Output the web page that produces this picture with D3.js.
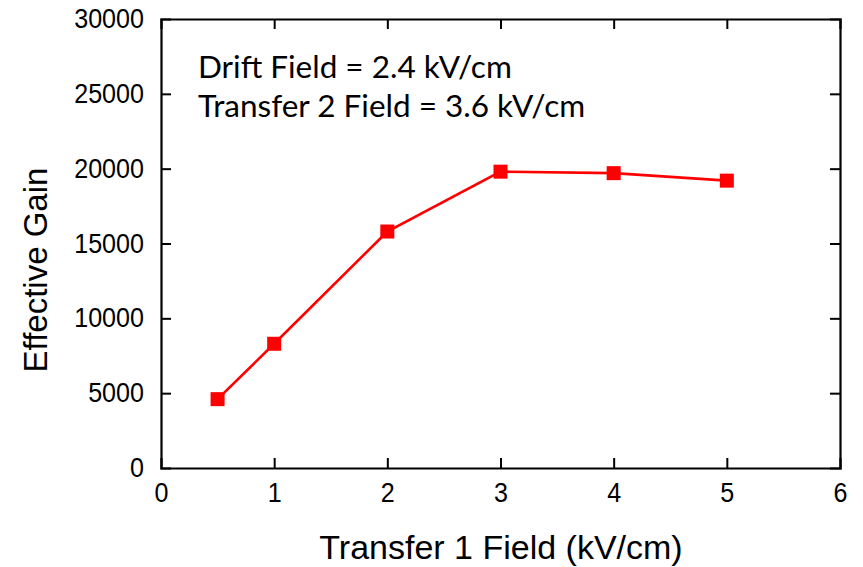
<!DOCTYPE html>
<html>
<head>
<meta charset="utf-8">
<script src="https://cdn.jsdelivr.net/npm/d3@7"></script>
<style>
  html, body { margin: 0; padding: 0; background: #fff; }
  svg { display: block; }
</style>
</head>
<body>
<svg id="chart" width="863" height="567"></svg>
<script>
// Transfer 1 field (kV/cm) and measured effective gain
const transferField = [0.5, 1, 2, 3, 4, 5];
const effectiveGain = [4600, 8300, 15800, 19800, 19700, 19200];
const xTicks = [0, 1, 2, 3, 4, 5, 6];
const yTicks = [0, 5000, 10000, 15000, 20000, 25000, 30000];
const notes = ["Drift Field = 2.4 kV/cm", "Transfer 2 Field = 3.6 kV/cm"];

const svg = d3.select("#chart");
const margin = { left: 161, top: 19, right: 23, bottom: 99 };
const W = 863 - margin.left - margin.right;
const H = 567 - margin.top - margin.bottom;

const x = d3.scaleLinear().domain([0, 6]).range([0, W]);
const y = d3.scaleLinear().domain([0, 30000]).range([H, 0]);

const g = svg.append("g").attr("transform", `translate(${margin.left},${margin.top})`);

const tickFont = "'Liberation Sans', Arial, sans-serif";
const condense = 0.93;

// Bottom axis with labels, inward ticks
const xAxis = g.append("g").attr("transform", `translate(0,${H})`)
  .call(d3.axisBottom(x).tickValues(xTicks).tickSize(-10).tickPadding(15).tickFormat(d3.format("d")));
// Top axis, ticks only
const xAxisTop = g.append("g")
  .call(d3.axisTop(x).tickValues(xTicks).tickSize(-10).tickFormat(""));
// Left axis with labels
const yAxis = g.append("g")
  .call(d3.axisLeft(y).tickValues(yTicks).tickSize(-10).tickPadding(17).tickFormat(d3.format("d")));
// Right axis, ticks only
const yAxisRight = g.append("g").attr("transform", `translate(${W},0)`)
  .call(d3.axisRight(y).tickValues(yTicks).tickSize(-10).tickFormat(""));

[xAxis, xAxisTop, yAxis, yAxisRight].forEach(a => {
  a.attr("font-family", tickFont).attr("font-size", 27);
  a.selectAll(".domain").attr("stroke", "#000").attr("stroke-width", 2.2);
  a.selectAll(".tick line").attr("stroke", "#000").attr("stroke-width", 2);
  a.selectAll(".tick text").attr("fill", "#000");
});

// Narrow the tick numerals slightly around their anchor point
[xAxis, yAxis].forEach(a => {
  a.selectAll(".tick text").each(function () {
    const t = d3.select(this);
    const tx = +t.attr("x") || 0;
    t.attr("x", 0).attr("transform", `translate(${tx},0) scale(${condense},1)`);
  });
});

// Drop end ticks that sit on the frame corners
xAxis.selectAll(".tick").filter(d => d === 0 || d === 6).select("line").remove();
xAxisTop.selectAll(".tick").filter(d => d === 0 || d === 6).select("line").remove();
yAxis.selectAll(".tick").filter(d => d === 0 || d === 30000).select("line").remove();
yAxisRight.selectAll(".tick").filter(d => d === 0 || d === 30000).select("line").remove();

// Data line
const pts = transferField.map((v, i) => [v, effectiveGain[i]]);
g.append("path")
  .datum(pts)
  .attr("fill", "none")
  .attr("stroke", "#ff0000")
  .attr("stroke-width", 2.6)
  .attr("d", d3.line().x(d => x(d[0])).y(d => y(d[1])));

// Square markers
const s = 14;
g.selectAll("rect.pt").data(pts).enter().append("rect")
  .attr("class", "pt")
  .attr("x", d => x(d[0]) - s / 2)
  .attr("y", d => y(d[1]) - s / 2)
  .attr("width", s).attr("height", s)
  .attr("fill", "#ff0000");

// Annotations
g.selectAll("text.note").data(notes).enter().append("text")
  .attr("class", "note")
  .attr("x", 37)
  .attr("y", (d, i) => 59 + i * 39)
  .attr("font-family", "Lato, 'Open Sans', sans-serif")
  .attr("font-size", 31.5)
  .attr("fill", "#000")
  .text(d => d);

// Axis titles
svg.append("text")
  .attr("x", 501)
  .attr("y", 559)
  .attr("text-anchor", "middle")
  .attr("font-family", tickFont)
  .attr("font-size", 34)
  .text("Transfer 1 Field (kV/cm)");

svg.append("text")
  .attr("transform", "translate(47,270) rotate(-90)")
  .attr("text-anchor", "middle")
  .attr("font-family", tickFont)
  .attr("font-size", 33)
  .text("Effective Gain");
</script>
</body>
</html>
